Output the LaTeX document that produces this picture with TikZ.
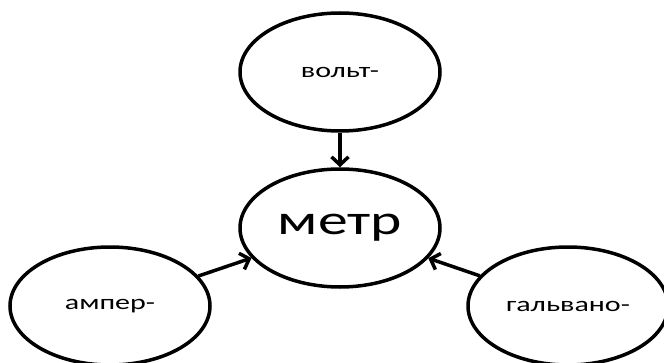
\documentclass[tikz,border=0pt]{standalone}
\usepackage{graphicx}
\usepackage{fontspec}
\setmainfont{Carlito}
\usetikzlibrary{positioning, shapes.geometric, arrows.meta}

\begin{document}
\begin{tikzpicture}[x=1pt, y=1pt, line width=3.5pt,
    word/.style={ellipse, draw, minimum width=200pt, minimum height=118pt, inner sep=0pt},
    link/.style={-{Straight Barb[length=8pt, width=17pt]}}]
	\useasboundingbox (0,0) rectangle (664,362);
	% Draw the vertices.
	\node[word] at (340,134) (metr) {\fontsize{42}{42}\selectfont\scalebox{1.42}[1]{метр}};
	\node[word] at (340,290) (volt) {\fontsize{21}{21}\selectfont\scalebox{1.43}[1]{вольт-}};
	\node[word] at (110,56) (amper) {\fontsize{21}{21}\selectfont\scalebox{1.43}[1]{ампер-}};
	\node[word] at (568,56) (galv) {\fontsize{21}{21}\selectfont\scalebox{1.43}[1]{гальвано-}};

	% Connect vertices with edges
	\draw[link] (volt) -- (metr);
	\draw[link] (amper) -- (metr);
	\draw[link] (galv) -- (metr);
\end{tikzpicture}
\end{document}
